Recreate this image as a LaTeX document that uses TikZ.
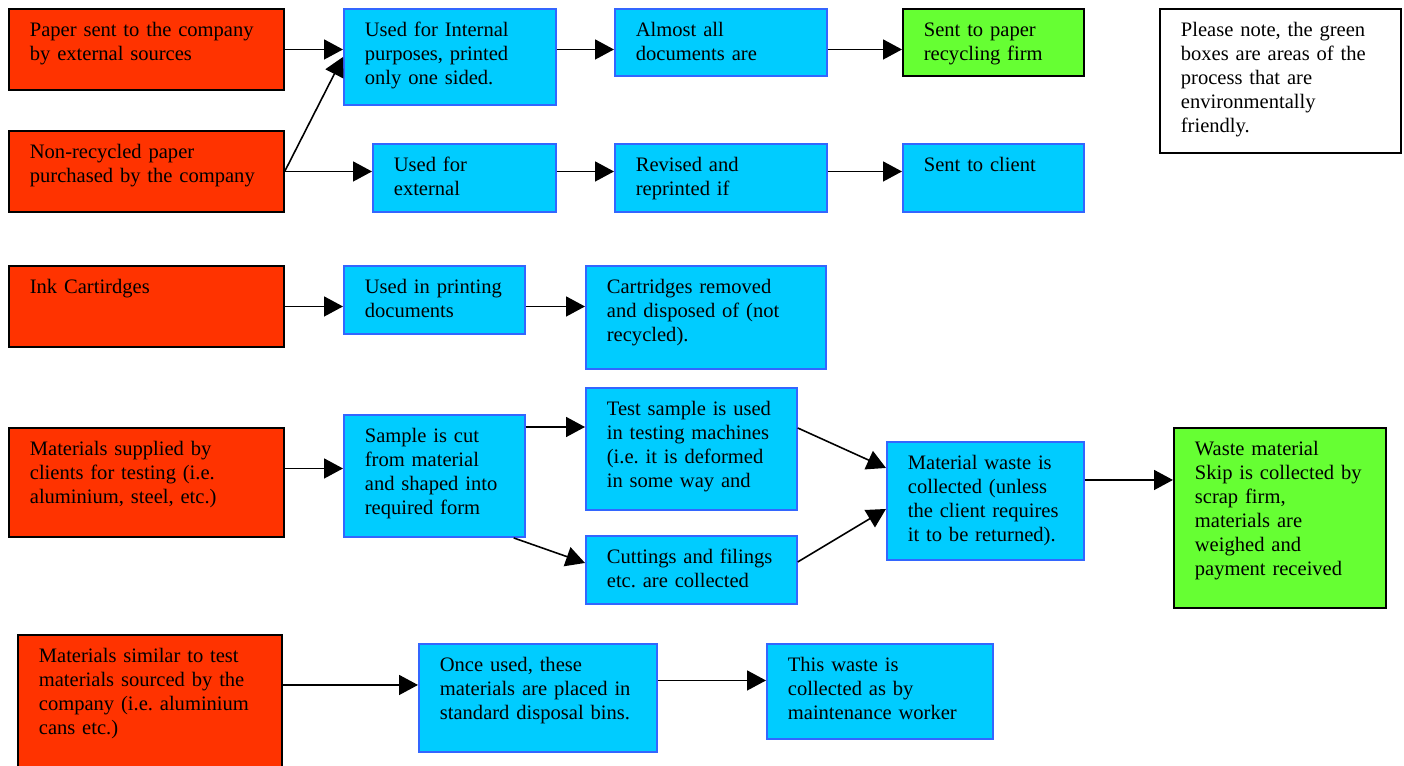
\documentclass[tikz,border=0pt]{standalone}
\usepackage{fontspec}
\setmainfont{Liberation Serif}
\usetikzlibrary{arrows.meta}

\definecolor{srcred}{HTML}{FF3300}
\definecolor{stepblue}{HTML}{00CCFF}
\definecolor{stepedge}{HTML}{3366FF}
\definecolor{ecogreen}{HTML}{66FF33}

\begin{document}
\frenchspacing
\begin{tikzpicture} [x = 0.02cm, y = -0.02cm,
  every node/.style = {anchor = north west, align = left, inner xsep = 0.42cm, inner ysep = 0.28cm,
    text height = 7.8pt, font = \fontsize{11.7}{13.6}\selectfont},
  source/.style = {draw = black, fill = srcred, line width = 1pt},
  stage/.style = {draw = stepedge, fill = stepblue, line width = 1pt},
  ecobox/.style = {draw = black, fill = ecogreen, line width = 1pt},
  notebox/.style = {draw = black, fill = white, line width = 1pt},
  flow/.style = {-{Triangle[length = 0.38cm, width = 0.40cm]}, line width = 0.9pt}]
\path[use as bounding box, fill = white] (0, 0) rectangle (1404, 766);

% paper
\node[source, text width = 4.66cm, text depth = 0.79cm] (paper) at (8, 8) {Paper sent to the company\\by external sources};
\node[source, text width = 4.66cm, text depth = 0.79cm] (nonrec) at (8, 130) {Non-recycled paper\\purchased by the company};
\node[stage, text width = 3.40cm, text depth = 1.09cm] (internal) at (343, 8) {Used for Internal\\purposes, printed\\only one sided.};
\node[stage, text width = 3.40cm, text depth = 0.51cm] (almost) at (614, 8) {Almost all\\documents are};
\node[ecobox, text width = 2.78cm, text depth = 0.51cm] (recycling) at (902, 8) {Sent to paper\\recycling firm};
\node[notebox, text width = 3.98cm, text depth = 2.05cm] (note) at (1159, 8) {Please note, the green\\boxes are areas of the\\process that are\\environmentally\\friendly.};
\node[stage, text width = 2.82cm, text depth = 0.53cm] (external) at (372, 143) {Used for\\external};
\node[stage, text width = 3.40cm, text depth = 0.53cm] (revised) at (614, 143) {Revised and\\reprinted if};
\node[stage, text width = 2.78cm, text depth = 0.53cm] (client) at (902, 143) {Sent to client};

\draw[flow] (paper.east) -- (paper.east -| internal.west);
\draw[flow] (nonrec.east) -- (internal.west);
\draw[flow] (nonrec.east) -- (nonrec.east -| external.west);
\draw[flow] (internal.east |- paper.east) -- (almost.west |- paper.east);
\draw[flow] (almost.east |- paper.east) -- (recycling.west |- paper.east);
\draw[flow] (external.east |- nonrec.east) -- (revised.west |- nonrec.east);
\draw[flow] (revised.east |- nonrec.east) -- (client.west |- nonrec.east);

% ink
\node[source, text width = 4.66cm, text depth = 0.79cm] (ink) at (8, 265) {Ink Cartirdges};
\node[stage, text width = 2.78cm, text depth = 0.53cm] (printing) at (343, 265) {Used in printing\\documents};
\node[stage, text width = 3.96cm, text depth = 1.23cm] (removed) at (585, 265) {Cartridges removed\\and disposed of (not\\recycled).};

\draw[flow] (ink.east) -- (ink.east -| printing.west);
\draw[flow] (printing.east |- ink.east) -- (removed.west |- ink.east);

% test materials
\node[source, text width = 4.66cm, text depth = 1.35cm] (supplied) at (8, 427) {Materials supplied by\\clients for testing (i.e.\\aluminium, steel, etc.)};
\node[stage, text width = 2.78cm, text depth = 1.61cm] (sample) at (343, 414) {Sample is cut\\from material\\and shaped into\\required form};
\node[stage, text width = 3.38cm, text depth = 1.61cm] (test) at (585, 387) {Test sample is used\\in testing machines\\(i.e. it is deformed\\in some way and};
\node[stage, text width = 3.38cm, text depth = 0.53cm] (cuttings) at (585, 535) {Cuttings and filings\\etc. are collected};
\node[stage, text width = 3.10cm, text depth = 1.53cm] (waste) at (886, 441) {Material waste is\\collected (unless\\the client requires\\it to be returned).};
\node[ecobox, text width = 3.40cm, text depth = 2.77cm] (skip) at (1173, 427) {Waste material\\Skip is collected by\\scrap firm,\\materials are\\weighed and\\payment received};

\coordinate (s1) at ([yshift = 0.28cm]supplied.east);
\coordinate (c1) at ([yshift = -0.26cm]sample.north east);
\coordinate (w1) at ([yshift = 0.42cm]waste.east);
\draw[flow] (s1) -- (s1 -| sample.west);
\draw[flow] (c1) -- (c1 -| test.west);
\draw[flow] ([xshift = -0.24cm]sample.south east) -- ([yshift = 0.14cm]cuttings.west);
\draw[flow] ([yshift = 0.42cm]test.east) -- ([yshift = 0.66cm]waste.west);
\draw[flow] ([yshift = 0.16cm]cuttings.east) -- ([yshift = -0.16cm]waste.west);
\draw[flow] (w1) -- (w1 -| skip.west);

% similar materials
\node[source, text width = 4.44cm, text depth = 1.97cm] (similar) at (17, 634) {Materials similar to test\\materials sourced by the\\company (i.e. aluminium\\cans etc.)};
\node[stage, text width = 3.92cm, text depth = 1.33cm] (once) at (418, 643) {Once used, these\\materials are placed in\\standard disposal bins.};
\node[stage, text width = 3.68cm, text depth = 1.07cm] (maint) at (766, 643) {This waste is\\collected as by\\maintenance worker};

\coordinate (o1) at ([yshift = 0.26cm]once.west);
\coordinate (o2) at ([yshift = 0.35cm]once.east);
\draw[flow] (o1 -| similar.east) -- (o1);
\draw[flow] (o2) -- (o2 -| maint.west);
\end{tikzpicture}
\end{document}
